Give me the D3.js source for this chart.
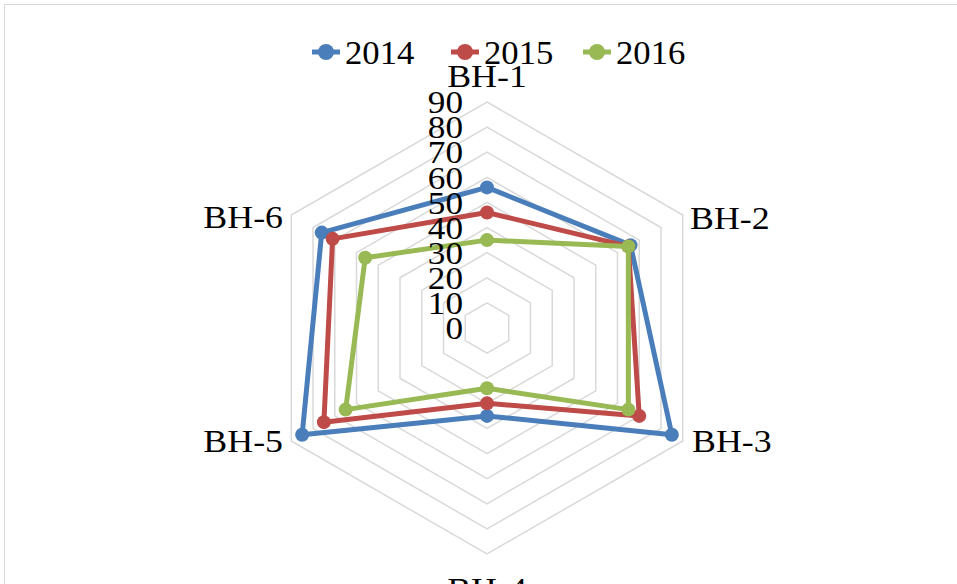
<!DOCTYPE html>
<html>
<head>
<meta charset="utf-8">
<script src="https://cdn.jsdelivr.net/npm/d3@7"></script>
<style>
  body { margin: 0; background: #fff; }
  svg text { font-family: "Liberation Serif", "Times New Roman", serif; fill: #000; }
</style>
</head>
<body>
<div id="chart"></div>
<script>
// data
const categories = ["BH-1", "BH-2", "BH-3", "BH-4", "BH-5", "BH-6"];
const seriesNames = ["2014", "2015", "2016"];
const values2014 = [56, 66, 85, 35, 85, 76];
const values2015 = [46, 65, 70, 30, 75, 71];
const values2016 = [35, 65, 65, 24, 65, 56];
const tickValues = [0, 10, 20, 30, 40, 50, 60, 70, 80, 90];
const colors = ["#4a7ebb", "#be4b48", "#98b954"];

const width = 957, height = 584;
const cx = 487, cy = 328, R = 226;

const svg = d3.select("#chart").append("svg")
    .attr("width", width)
    .attr("height", height);

// chart frame (cropped at right and bottom)
svg.append("rect")
    .attr("x", 4.5).attr("y", 4.5)
    .attr("width", 1000).attr("height", 1000)
    .attr("fill", "none")
    .attr("stroke", "#d9d9d9")
    .attr("stroke-width", 1);

const r = d3.scaleLinear().domain([0, 90]).range([0, R]);
const angle = i => i * 2 * Math.PI / categories.length;
const pt = (v, i) => [cx + r(v) * Math.sin(angle(i)), cy - r(v) * Math.cos(angle(i))];

// grid hexagons
const g = svg.append("g");
tickValues.slice(1).forEach(t => {
    g.append("polygon")
        .attr("points", categories.map((c, i) => pt(t, i).join(",")).join(" "))
        .attr("fill", "none")
        .attr("stroke", "#d9d9d9")
        .attr("stroke-width", 1.5);
});

// series
const data = [values2014, values2015, values2016];
data.forEach((vals, s) => {
    const pts = vals.map((v, i) => pt(v, i));
    svg.append("path")
        .attr("d", d3.line().curve(d3.curveLinearClosed)(pts))
        .attr("fill", "none")
        .attr("stroke", colors[s])
        .attr("stroke-width", 5)
        .attr("stroke-linejoin", "round");
    svg.selectAll(".m" + s)
        .data(pts)
        .enter()
        .append("circle")
        .attr("cx", d => d[0])
        .attr("cy", d => d[1])
        .attr("r", 7)
        .attr("fill", colors[s]);
});

// tick labels (drawn over the grid)
svg.selectAll(".tick")
    .data(tickValues)
    .enter()
    .append("text")
    .attr("transform", d => `translate(463,${cy - r(d)}) scale(1.1,1)`)
    .attr("text-anchor", "end")
    .attr("dy", "0.35em")
    .attr("font-size", 32)
    .text(d => d);

// category labels
const labelPos = [
    { x: 487, y: 87, anchor: "middle" },
    { x: 690, y: 229, anchor: "start" },
    { x: 692, y: 452, anchor: "start" },
    { x: 487, y: 600, anchor: "middle" },
    { x: 283, y: 452, anchor: "end" },
    { x: 283, y: 228, anchor: "end" }
];
svg.selectAll(".cat")
    .data(categories)
    .enter()
    .append("text")
    .attr("transform", (d, i) => `translate(${labelPos[i].x},${labelPos[i].y}) scale(1.12,1)`)
    .attr("text-anchor", (d, i) => labelPos[i].anchor)
    .attr("font-size", 32)
    .text(d => d);

// legend
const legendX = [312, 451, 583];
const legend = svg.selectAll(".legend")
    .data(seriesNames)
    .enter()
    .append("g")
    .attr("transform", (d, i) => `translate(${legendX[i]},52)`);
legend.append("line")
    .attr("x1", 0).attr("x2", 28)
    .attr("stroke", (d, i) => colors[i])
    .attr("stroke-width", 5);
legend.append("circle")
    .attr("cx", 14).attr("r", 8)
    .attr("fill", (d, i) => colors[i]);
legend.append("text")
    .attr("transform", "translate(33,0) scale(1.05,1)")
    .attr("dy", "0.35em")
    .attr("font-size", 33)
    .text(d => d);
</script>
</body>
</html>
